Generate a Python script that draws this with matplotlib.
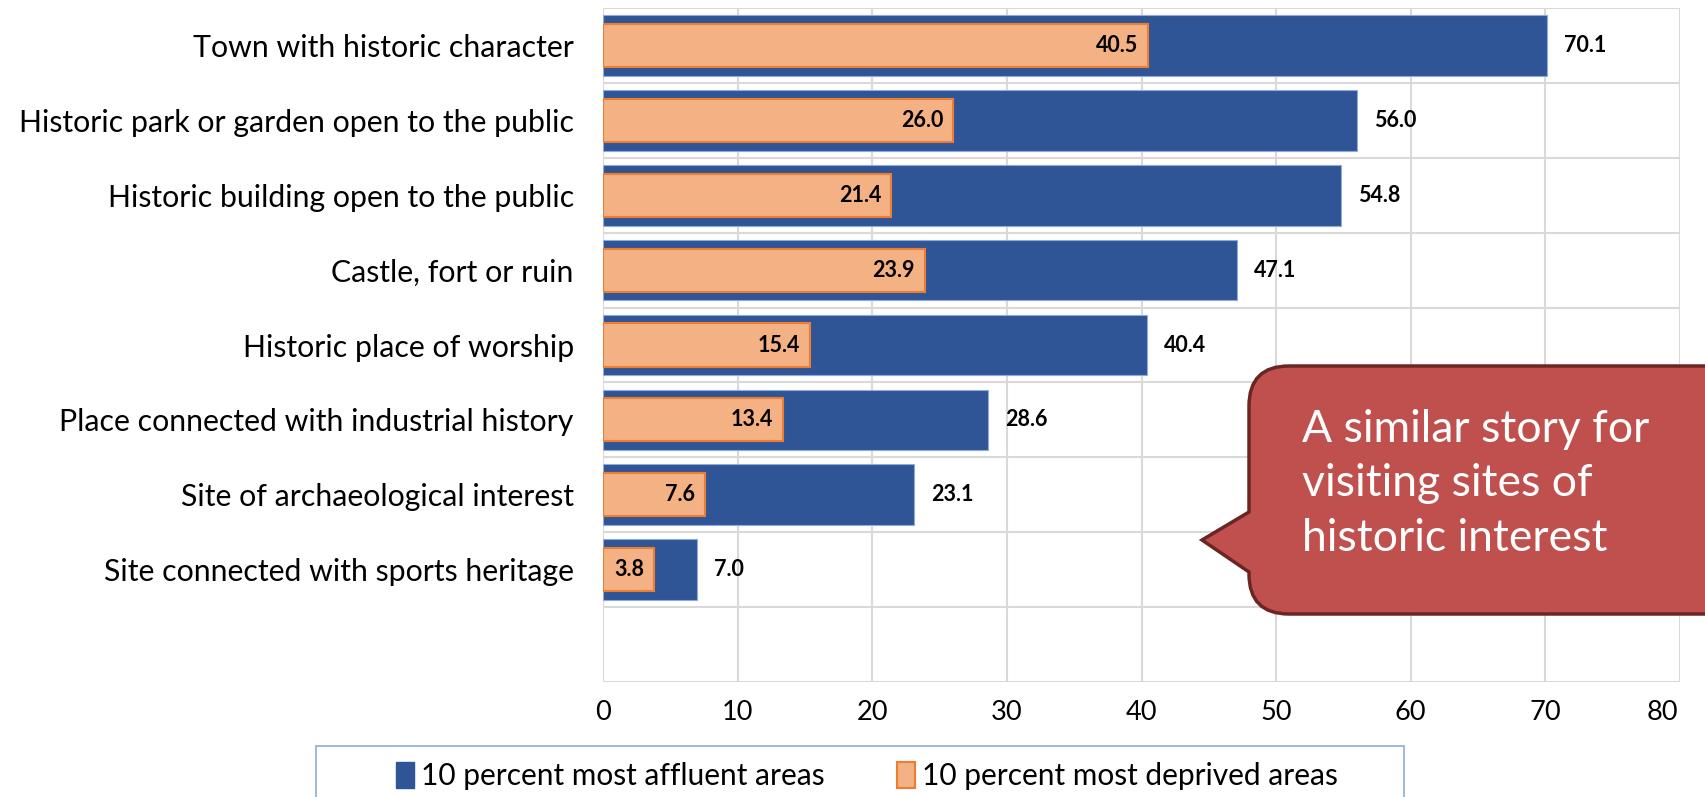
import matplotlib
matplotlib.use("Agg")
import matplotlib.pyplot as plt
import matplotlib.transforms as mtransforms
from matplotlib.path import Path
from matplotlib.patches import PathPatch, Rectangle, Patch

categories = ["Town with historic character",
              "Historic park or garden open to the public",
              "Historic building open to the public",
              "Castle, fort or ruin",
              "Historic place of worship",
              "Place connected with industrial history",
              "Site of archaeological interest",
              "Site connected with sports heritage"]
affluent = [70.1, 56.0, 54.8, 47.1, 40.4, 28.6, 23.1, 7.0]
deprived = [40.5, 26.0, 21.4, 23.9, 15.4, 13.4, 7.6, 3.8]
series_names = ["10 percent most affluent areas", "10 percent most deprived areas"]
x_ticks = [0, 10, 20, 30, 40, 50, 60, 70, 80]
callout_text = "A similar story for\nvisiting sites of\nhistoric interest"

W, H = 1706, 797
BLUE = "#2F5597"
ORANGE = "#F4B183"
ORANGE_EDGE = "#ED7D31"
GRID = "#D9D9D9"

plt.rcParams["font.family"] = ["Lato", "DejaVu Sans"]

fig = plt.figure(figsize=(W / 100, H / 100), dpi=100)
# plot area in pixels: x 603..1680, y 8..682
ax = fig.add_axes([603 / W, 1 - 682 / H, (1680 - 603) / W, (682 - 8) / H])

ypos = list(range(len(categories)))
ax.barh(ypos, affluent, height=0.81, color=BLUE, edgecolor="#8FAADC", linewidth=0.8, zorder=2)
ax.barh(ypos, deprived, height=0.575, color=ORANGE, edgecolor=ORANGE_EDGE, linewidth=1.5, zorder=3)

for y, v in zip(ypos, affluent):
    ax.annotate(f"{v:.1f}", (v, y), xytext=(17, 0), textcoords="offset pixels",
                ha="left", va="center", fontsize=15.5, fontweight="bold", zorder=4)
for y, v in zip(ypos, deprived):
    ax.annotate(f"{v:.1f}", (v, y), xytext=(-10, 0), textcoords="offset pixels",
                ha="right", va="center", fontsize=15.5, fontweight="bold", zorder=4)

ax.set_xlim(0, 80)
ax.set_ylim(len(categories) + 0.5, -0.5)
ax.set_xticks(x_ticks)
ax.set_xticklabels([str(t) for t in x_ticks], fontsize=19.5)
ax.set_yticks(ypos)
ax.set_yticklabels(categories, fontsize=21.8)
ax.tick_params(axis="both", length=0)
ax.tick_params(axis="y", pad=21)
ax.tick_params(axis="x", pad=13)
# last tick label sits a little inside the chart, as in the original
last = ax.get_xticklabels()[-1]
last.set_transform(last.get_transform() + mtransforms.ScaledTranslation(-18 / 100, 0, fig.dpi_scale_trans))

for b in [i - 0.5 for i in range(len(categories) + 2)]:
    ax.axhline(b, color=GRID, lw=1.5, zorder=1)
for t in x_ticks:
    ax.axvline(t, color=GRID, lw=1.5, zorder=1)
for s in ax.spines.values():
    s.set_visible(False)


def px(x, y):
    return (x / W, 1 - y / H)


# callout shape (figure pixels)
L, T, R, B, r = 1249, 366, 1740, 614, 40
verts = [px(L + r, T), px(R, T), px(R, B), px(L + r, B),
         px(L, B), px(L, B - r),
         px(L, 572), px(1202, 540), px(L, 512),
         px(L, T + r), px(L, T), px(L + r, T)]
codes = [Path.MOVETO, Path.LINETO, Path.LINETO, Path.LINETO,
         Path.CURVE3, Path.CURVE3,
         Path.LINETO, Path.LINETO, Path.LINETO,
         Path.LINETO, Path.CURVE3, Path.CURVE3]
callout = PathPatch(Path(verts, codes), transform=fig.transFigure,
                    facecolor="#C0504D", edgecolor="#6B2623", linewidth=2.5, zorder=10)
fig.patches.append(callout)
fig.text(1302 / W, 1 - 484 / H, callout_text, color="white", fontsize=32,
         ha="left", va="center", linespacing=1.42, zorder=11)

# legend box
fig.patches.append(Rectangle(px(316, 820), (1404 - 316) / W, (820 - 746) / H,
                             transform=fig.transFigure, facecolor="white",
                             edgecolor="#8FAADC", linewidth=1.2, zorder=5))
handles = [Patch(facecolor=BLUE, edgecolor=BLUE),
           Patch(facecolor=ORANGE, edgecolor=ORANGE_EDGE, linewidth=1.5)]
fig.legend(handles, series_names, loc="center", bbox_to_anchor=(867 / W, 1 - 776 / H),
           ncol=2, frameon=False, fontsize=21.5, handlelength=0.6, handleheight=0.95,
           handletextpad=0.25, columnspacing=2.4)

fig.savefig("out.png", dpi=100)
